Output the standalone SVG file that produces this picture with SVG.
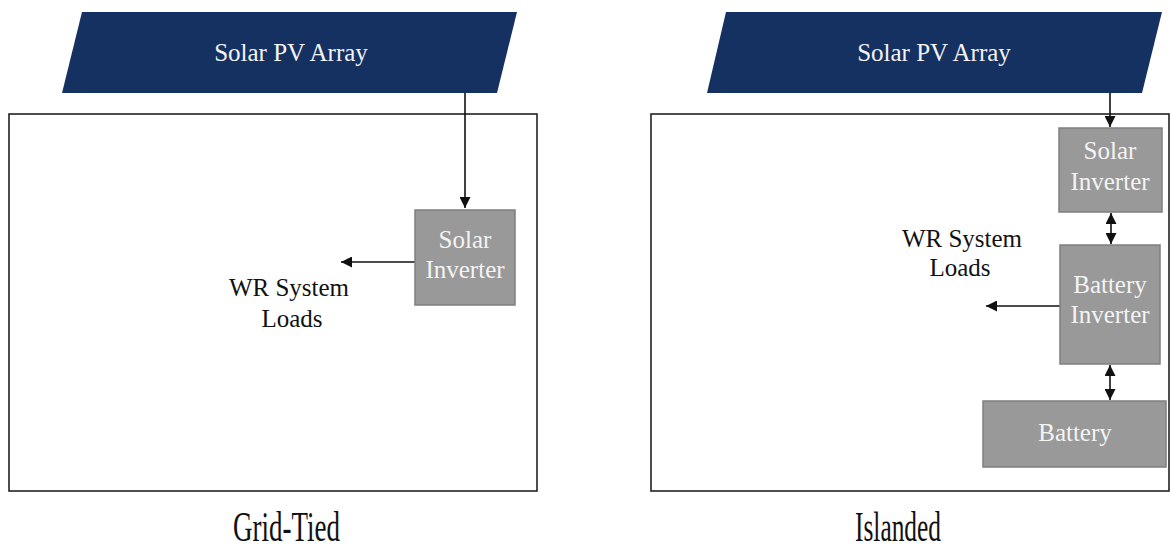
<svg xmlns="http://www.w3.org/2000/svg" width="1171" height="553" viewBox="0 0 1171 553">
  <style>
    .frame { fill: #ffffff; stroke: #222222; stroke-width: 1.6; }
    .pv { fill: #143162; }
    .unit { fill: #999999; stroke: #7f7f7f; stroke-width: 1.5; }
    .t { font-family: 'Liberation Serif', 'DejaVu Serif', serif; font-size: 25px; text-anchor: middle; }
    .light { fill: #f4f4f4; }
    .dark { fill: #111111; }
    .cap { font-family: 'Liberation Serif', 'DejaVu Serif', serif; font-size: 42px; fill: #111111; }
    .wire { stroke: #111111; stroke-width: 1.6; fill: none; }
  </style>
  <defs>
    <marker id="ah" viewBox="0 0 10 10" refX="10" refY="5" markerWidth="11" markerHeight="11" orient="auto-start-reverse" markerUnits="userSpaceOnUse">
      <path d="M0,0 L10,5 L0,10 Z" fill="#111111"/>
    </marker>
  </defs>
  <rect width="1171" height="553" fill="#ffffff"/>

  <!-- system boundaries -->
  <g id="grid-tied-frame"><rect class="frame" x="9" y="114" width="528" height="377"/></g>
  <g id="islanded-frame"><rect class="frame" x="651" y="114" width="518" height="377"/></g>

  <!-- connectors -->
  <g id="connectors">
    <line class="wire" x1="465" y1="93" x2="465" y2="208" marker-end="url(#ah)"/>
    <line class="wire" x1="415" y1="262" x2="341" y2="262" marker-end="url(#ah)"/>
    <line class="wire" x1="1110" y1="93" x2="1110" y2="127" marker-end="url(#ah)"/>
    <line class="wire" x1="1111" y1="213" x2="1111" y2="244" marker-start="url(#ah)" marker-end="url(#ah)"/>
    <line class="wire" x1="1060" y1="306" x2="986" y2="306" marker-end="url(#ah)"/>
    <line class="wire" x1="1110" y1="365" x2="1110" y2="400" marker-start="url(#ah)" marker-end="url(#ah)"/>
  </g>

  <!-- grid-tied side -->
  <g id="pv-array-left">
    <polygon class="pv" points="82,12 517,12 497,93 62,93"/>
    <text class="t light" x="291" y="61">Solar PV Array</text>
  </g>
  <g id="solar-inverter-left">
    <rect class="unit" x="415" y="210" width="100" height="95"/>
    <text class="t light" x="465" y="248">Solar</text>
    <text class="t light" x="465" y="278">Inverter</text>
  </g>
  <g id="loads-left">
    <text class="t dark" x="289" y="296">WR System</text>
    <text class="t dark" x="292" y="327">Loads</text>
  </g>
  <g id="caption-left"><text class="cap" x="233" y="541" textLength="107" lengthAdjust="spacingAndGlyphs">Grid-Tied</text></g>

  <!-- islanded side -->
  <g id="pv-array-right">
    <polygon class="pv" points="726,12 1162,12 1142,93 707,93"/>
    <text class="t light" x="934" y="61">Solar PV Array</text>
  </g>
  <g id="solar-inverter-right">
    <rect class="unit" x="1059" y="128" width="103" height="84"/>
    <text class="t light" x="1110" y="159">Solar</text>
    <text class="t light" x="1110" y="190">Inverter</text>
  </g>
  <g id="battery-inverter">
    <rect class="unit" x="1060" y="245" width="100" height="119"/>
    <text class="t light" x="1110" y="293">Battery</text>
    <text class="t light" x="1110" y="323">Inverter</text>
  </g>
  <g id="battery">
    <rect class="unit" x="983" y="401" width="183" height="66"/>
    <text class="t light" x="1075" y="441">Battery</text>
  </g>
  <g id="loads-right">
    <text class="t dark" x="962" y="247">WR System</text>
    <text class="t dark" x="960" y="276">Loads</text>
  </g>
  <g id="caption-right"><text class="cap" x="855" y="541" textLength="86" lengthAdjust="spacingAndGlyphs">Islanded</text></g>
</svg>
